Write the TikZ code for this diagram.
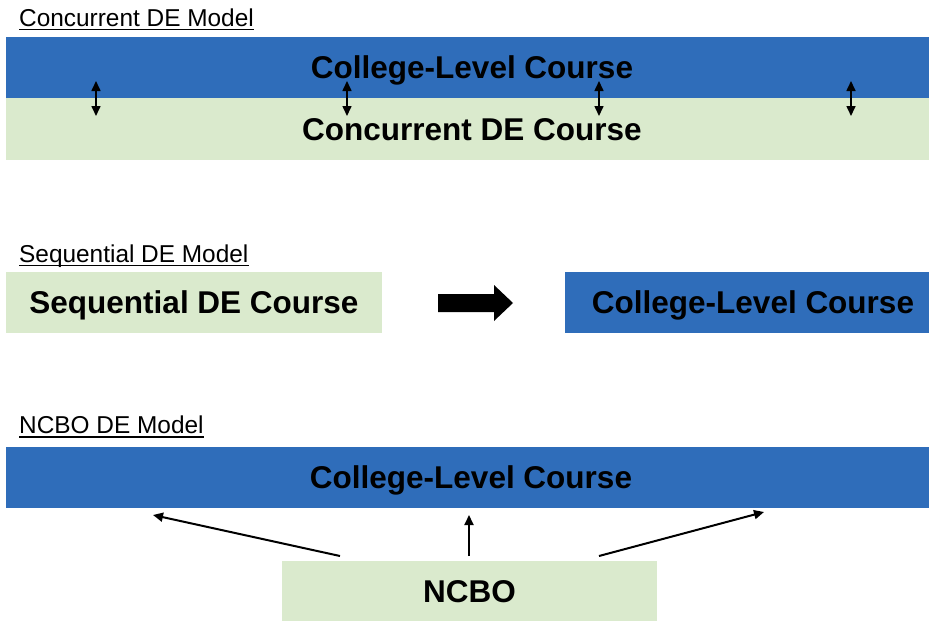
\documentclass[tikz,border=0pt]{standalone}
\usepackage{fontspec}
\setmainfont{Liberation Sans}
\usetikzlibrary{arrows.meta}
\definecolor{barblue}{RGB}{47,109,186}
\definecolor{bargreen}{RGB}{218,234,205}

\begin{document}
\begin{tikzpicture}[x=1pt,y=-1pt,
  block/.style={inner sep=0pt, outer sep=0pt, anchor=north west,
    text height=22.5pt, text depth=0pt,
    font=\bfseries\fontsize{31.5}{31.5}\selectfont},
  bluebox/.style={block, fill=barblue},
  greenbox/.style={block, fill=bargreen},
  heading/.style={inner sep=0pt, anchor=base west, font=\fontsize{24.4}{24.4}\selectfont},
  headline/.style={line width=1.3pt},
  linkarrow/.style={line width=1.6pt, {Triangle[length=10pt,width=9pt]}-{Triangle[length=10pt,width=9pt]}},
  feedarrow/.style={line width=2pt, -{Triangle[length=10pt,width=9pt]}},
  blockarrow/.style={fill=black}]

\clip (0,0) rectangle (929,621);

% ---- Concurrent model ----
\node[heading] (t1) at (19,26) {Concurrent DE Model};
\draw[headline] ([yshift=-3.5pt]t1.base west) -- ([yshift=-3.5pt]t1.base east);

\node[bluebox, minimum width=932pt, minimum height=61pt] (cc) at (6,37) {College-Level Course};
\node[greenbox, minimum width=932pt, minimum height=62pt] (cd) at (6,98) {Concurrent DE Course};

\foreach \x [count=\i] in {96,347,599,851} {
  \coordinate (up\i) at (\x,81);
  \coordinate (dn\i) at (\x,116);
  \draw[linkarrow] (up\i) -- (dn\i);
}

% ---- Sequential model ----
\node[heading] (t2) at (19,262) {Sequential DE Model};
\draw[headline] ([yshift=-3.5pt]t2.base west) -- ([yshift=-3.5pt]t2.base east);

\node[greenbox, minimum width=376pt, minimum height=61pt] (sd) at (6,272) {Sequential DE Course};
\node[bluebox, minimum width=376pt, minimum height=61pt] (sc) at (565,272) {College-Level Course};

\fill[blockarrow] (438,294) -- (494,294) -- (494,285) -- (513,303)
  -- (494,321) -- (494,312) -- (438,312) -- cycle;

% ---- NCBO model ----
\node[heading] (t3) at (19,433) {NCBO DE Model};
\draw[headline] ([yshift=-4pt]t3.base west) -- ([yshift=-4pt]t3.base east);

\node[bluebox, minimum width=930pt, minimum height=61pt] (nc) at (6,447) {College-Level Course};
\node[greenbox, minimum width=375pt, minimum height=61pt] (nb) at (282,561) {NCBO};

\coordinate (fromL) at (340,556);
\coordinate (fromM) at (469,556);
\coordinate (fromR) at (599,556);
\coordinate (toL) at (153,515);
\coordinate (toM) at (469,515);
\coordinate (toR) at (764,512);
\draw[feedarrow] (fromL) -- (toL);
\draw[feedarrow] (fromM) -- (toM);
\draw[feedarrow] (fromR) -- (toR);

\end{tikzpicture}
\end{document}
